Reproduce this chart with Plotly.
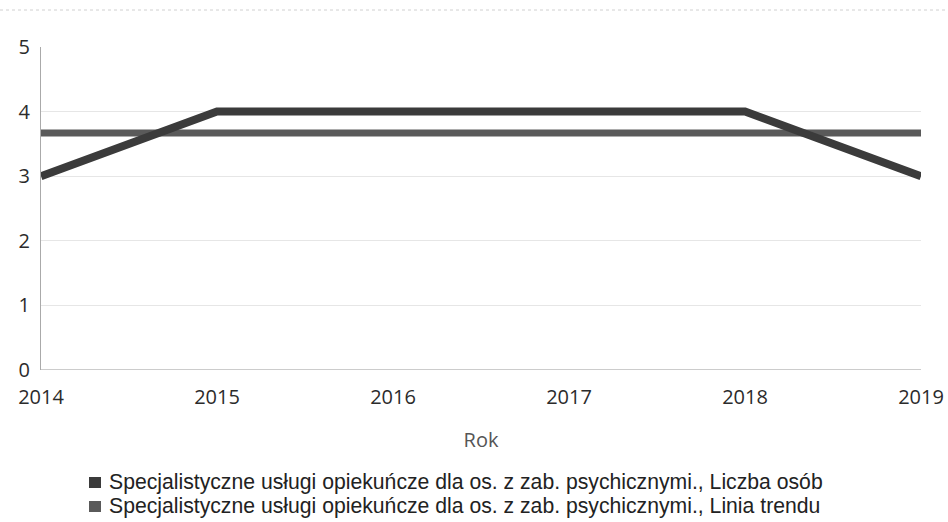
"""Line chart: specialist care services, people count vs trend line."""

import plotly.graph_objects as go

years = [2014, 2015, 2016, 2017, 2018, 2019]
liczba_osob = [3, 4, 4, 4, 4, 3]
linia_trendu = [3.67, 3.67, 3.67, 3.67, 3.67, 3.67]
y_ticks = [0, 1, 2, 3, 4, 5]

series_name = "Specjalistyczne usługi opiekuńcze dla os. z zab. psychicznymi."
legend_labels = [series_name + ", Liczba osób", series_name + ", Linia trendu"]
data_color = "#3b3b3b"
trend_color = "#5a5a5a"

# plot area in pixels (for paper-coordinate helpers)
PLOT_L, PLOT_R, PLOT_T, PLOT_B = 41, 921, 47, 370


def px_x(p):
    return (p - PLOT_L) / (PLOT_R - PLOT_L)


def px_y(p):
    return (PLOT_B - p) / (PLOT_B - PLOT_T)


fig = go.Figure()

fig.add_trace(go.Scatter(
    x=years, y=linia_trendu, mode="lines",
    line=dict(color=trend_color, width=7),
    name=legend_labels[1], showlegend=False, hoverinfo="skip"
))
fig.add_trace(go.Scatter(
    x=years, y=liczba_osob, mode="lines",
    line=dict(color=data_color, width=8),
    name=legend_labels[0], showlegend=False
))

fig.update_layout(
    width=948,
    height=522,
    margin=dict(l=PLOT_L, r=948 - PLOT_R, t=PLOT_T, b=522 - PLOT_B, autoexpand=False),
    plot_bgcolor="white",
    paper_bgcolor="white",
    font=dict(family="Open Sans", size=20, color="#2b2b2b"),
    xaxis=dict(
        range=[2014, 2019],
        tickvals=years,
        ticktext=[str(y) for y in years],
        tickfont=dict(size=20),
        showgrid=False,
        zeroline=False,
        showline=False,
        ticks="",
        ticklabelstandoff=13,
        automargin=False,
        title=dict(text="Rok", standoff=23, font=dict(size=20, color="#555")),
        fixedrange=True
    ),
    yaxis=dict(
        range=[0, 5],
        tickvals=y_ticks,
        tickfont=dict(size=20),
        showgrid=True,
        gridcolor="rgba(200,200,200,0.45)",
        zeroline=False,
        showline=True,
        linecolor="#aaaaaa",
        linewidth=1,
        ticks="",
        ticklabelstandoff=6,
        automargin=False,
        fixedrange=True
    ),
    showlegend=False
)

# x-axis baseline
fig.add_shape(type="line", xref="paper", yref="y", x0=0, x1=1, y0=0, y1=0,
              line=dict(color="#999999", width=1))

# faint dotted rule along the top of the page
fig.add_shape(type="line", xref="paper", yref="paper",
              x0=px_x(0), x1=px_x(948), y0=px_y(10), y1=px_y(10),
              line=dict(color="#d0d0d0", width=1, dash="dot"))

# legend: square swatch + label, two rows
for label, color, row_y in zip(legend_labels, [data_color, trend_color], [482, 506]):
    fig.add_shape(type="rect", xref="paper", yref="paper",
                  x0=px_x(89), x1=px_x(101), y0=px_y(row_y - 5), y1=px_y(row_y + 6),
                  fillcolor=color, line=dict(width=0))
    fig.add_annotation(
        text=label, xref="paper", yref="paper",
        x=px_x(107), y=px_y(row_y), xanchor="left", yanchor="middle",
        showarrow=False,
        font=dict(family="Liberation Sans", size=21.2, color="#222")
    )

fig.write_html("out.html", config={"displayModeBar": False},
               post_script="document.body.style.margin='0';")
